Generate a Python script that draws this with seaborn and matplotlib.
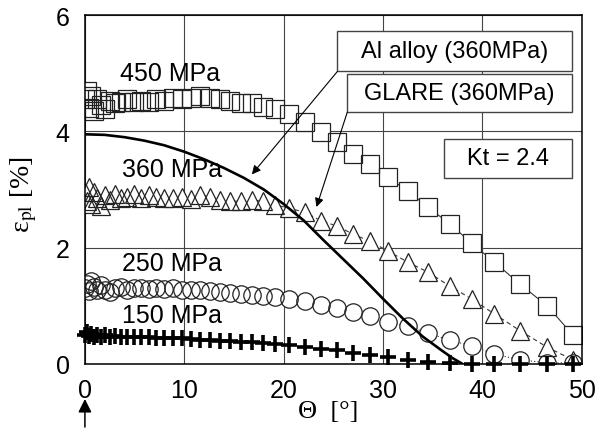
import matplotlib
matplotlib.use("Agg")
import matplotlib.pyplot as plt
import seaborn as sns
import pandas as pd
from matplotlib.patches import Rectangle

# ---------------- data ----------------
theta = [0, 0.2, 0.4, 0.6, 0.9, 1.2, 1.6, 2.0, 2.5, 3.0, 3.6, 4.2, 4.9, 5.6, 6.4,
         7.2, 8.0, 8.9, 9.8, 10.7, 11.6, 12.6, 13.6, 14.6, 15.7, 16.8, 17.9, 19.1,
         20.5, 22.1, 23.8, 25.4, 27.0, 28.7, 30.5, 32.5, 34.5, 36.7, 38.9, 41.2,
         43.8, 46.5, 49.1]

glare_450 = [4.55, 4.70, 4.40, 4.60, 4.35, 4.55, 4.45, 4.38, 4.52, 4.48, 4.50, 4.55,
             4.50, 4.52, 4.50, 4.55, 4.52, 4.58, 4.55, 4.58, 4.60, 4.58, 4.55, 4.52,
             4.48, 4.48, 4.42, 4.38, 4.30, 4.16, 3.99, 3.81, 3.61, 3.44, 3.21, 2.97,
             2.70, 2.41, 2.08, 1.75, 1.37, 1.00, 0.50]

glare_360 = [2.95, 2.80, 3.05, 2.75, 2.95, 2.85, 2.72, 2.90, 2.82, 2.92, 2.85, 2.88,
             2.92, 2.86, 2.90, 2.88, 2.86, 2.85, 2.88, 2.84, 2.90, 2.88, 2.82, 2.80,
             2.80, 2.82, 2.80, 2.74, 2.68, 2.61, 2.46, 2.37, 2.23, 2.11, 1.94, 1.75,
             1.58, 1.34, 1.12, 0.86, 0.57, 0.29, 0.07]

glare_250 = [1.30, 1.38, 1.25, 1.42, 1.32, 1.27, 1.35, 1.28, 1.24, 1.30, 1.33, 1.28,
             1.30, 1.31, 1.29, 1.30, 1.29, 1.30, 1.28, 1.27, 1.28, 1.26, 1.24, 1.22,
             1.20, 1.19, 1.17, 1.15, 1.12, 1.08, 1.01, 0.96, 0.89, 0.82, 0.72, 0.65,
             0.53, 0.41, 0.31, 0.17, 0.07, 0.02, 0.02]

glare_150 = [0.50, 0.55, 0.48, 0.52, 0.47, 0.50, 0.47, 0.49, 0.47, 0.48, 0.47, 0.47,
             0.46, 0.46, 0.46, 0.45, 0.45, 0.44, 0.44, 0.43, 0.42, 0.41, 0.40, 0.39,
             0.38, 0.37, 0.36, 0.34, 0.32, 0.29, 0.26, 0.24, 0.19, 0.15, 0.12, 0.07,
             0.03, 0.01, 0.0, 0.0, 0.0, 0.0, 0.0]

al_theta = [0, 2, 4, 6, 8, 10, 12, 14, 16, 18, 20, 22, 24, 26, 28, 30, 32, 34, 36, 37, 38]
al_360 = [3.95, 3.94, 3.90, 3.84, 3.76, 3.65, 3.52, 3.37, 3.20, 3.00, 2.75, 2.47,
          2.13, 1.80, 1.47, 1.12, 0.78, 0.47, 0.22, 0.10, 0.0]

stress_labels = ["450 MPa", "360 MPa", "250 MPa", "150 MPa"]
box_labels = ["Al alloy (360MPa)", "GLARE (360MPa)", "Kt = 2.4"]
x_ticks = [0, 10, 20, 30, 40, 50]
y_ticks = [0, 2, 4, 6]

df = pd.DataFrame({"theta": theta, "s450": glare_450, "s360": glare_360,
                   "s250": glare_250, "s150": glare_150})
df_al = pd.DataFrame({"theta": al_theta, "eps": al_360})

# ---------------- style ----------------
sns.set_theme(style="white")
plt.rcParams["font.family"] = ["Liberation Sans", "DejaVu Sans"]
plt.rcParams["mathtext.fontset"] = "stix"

fig = plt.figure(figsize=(5.98, 4.35), dpi=100)
ax = fig.add_axes([0.142, 0.161, 0.831, 0.802])

# connecting lines
sns.lineplot(data=df, x="theta", y="s450", ax=ax, color="#333333", lw=0.8,
             linestyle="-", zorder=2, estimator=None, sort=False)
sns.lineplot(data=df, x="theta", y="s360", ax=ax, color="#333333", lw=0.8,
             linestyle=(0, (4, 3)), zorder=2, estimator=None, sort=False)
sns.lineplot(data=df, x="theta", y="s250", ax=ax, color="#333333", lw=0.8,
             linestyle=(0, (1, 2)), zorder=2, estimator=None, sort=False)

MS = 12.5
# white backing (hides line inside markers), then open markers on top
for col, mk in [("s450", "s"), ("s360", "^"), ("s250", "o")]:
    ax.plot(df["theta"], df[col], linestyle="none", marker=mk, markersize=MS,
            markerfacecolor="white", markeredgecolor="white", markeredgewidth=0,
            zorder=3)
for col, mk in [("s450", "s"), ("s360", "^"), ("s250", "o")]:
    ax.plot(df["theta"], df[col], linestyle="none", marker=mk, markersize=MS,
            markerfacecolor="none", markeredgecolor="#222222", markeredgewidth=0.9,
            zorder=4)
ax.plot(df["theta"], df["s150"], linestyle="none", marker="+", markersize=12,
        markeredgecolor="black", markeredgewidth=2.6, zorder=5, clip_on=False)

# Al alloy curve
sns.lineplot(data=df_al, x="theta", y="eps", ax=ax, color="black", lw=1.9,
             zorder=6, estimator=None, sort=False)

# axes
ax.set_xlim(0, 50)
ax.set_ylim(0, 6)
ax.set_xticks(x_ticks)
ax.set_yticks(y_ticks)
ax.set_xticklabels([str(t) for t in x_ticks])
ax.set_yticklabels([str(t) for t in y_ticks])
ax.tick_params(axis="both", length=0, labelsize=18, colors="black")
ax.tick_params(axis="x", pad=10)
ax.tick_params(axis="y", pad=11)
ax.grid(True, color="#444444", lw=0.8)
ax.set_axisbelow(True)
for sp in ax.spines.values():
    sp.set_color("black")
    sp.set_linewidth(1.1)
    sp.set_zorder(7)

ax.set_xlabel("Θ  [°]", family="Liberation Serif", fontsize=19, color="black")
ax.set_ylabel(r"ε$_{\mathrm{pl}}$ [%]", family="Liberation Serif", fontsize=20,
              color="black")
ax.xaxis.set_label_coords(0.49, -0.103)
ax.yaxis.set_label_coords(-0.092, 0.487)

# stress labels
for lab, (tx, ty) in zip(stress_labels, [(8.6, 5.0), (8.8, 3.35), (8.8, 1.74), (8.8, 0.84)]):
    ax.text(tx, ty, lab, fontsize=18, ha="center", va="center", color="black", zorder=8)

# boxes
boxes = [(0.507, 0.840, 0.980, 0.954), (0.527, 0.722, 0.980, 0.831),
         (0.722, 0.533, 0.980, 0.645)]
for (x0, y0, x1, y1), lab in zip(boxes, box_labels):
    ax.add_patch(Rectangle((x0, y0), x1 - x0, y1 - y0, transform=ax.transAxes,
                           facecolor="white", edgecolor="#444444", lw=1.0, zorder=9))
    ax.text((x0 + x1) / 2, (y0 + y1) / 2, lab, transform=ax.transAxes, fontsize=17,
            ha="center", va="center", color="black", zorder=10)

# pointer arrows
ax.annotate("", xy=(16.8, 3.26), xytext=(25.4, 5.03),
            arrowprops=dict(arrowstyle="-|>", color="black", lw=0.8,
                            mutation_scale=13, shrinkA=0, shrinkB=0), zorder=9)
ax.annotate("", xy=(23.3, 2.70), xytext=(26.4, 4.33),
            arrowprops=dict(arrowstyle="-|>", color="black", lw=0.8,
                            mutation_scale=13, shrinkA=0, shrinkB=0), zorder=9)

# bottom arrow under theta = 0
fig.patches.append(matplotlib.patches.FancyArrowPatch(
    (0.142, 0.016), (0.142, 0.0805), transform=fig.transFigure,
    arrowstyle="-|>", mutation_scale=20, lw=1.1, color="black",
    shrinkA=0, shrinkB=0))

fig.savefig("out.png", dpi=100)
